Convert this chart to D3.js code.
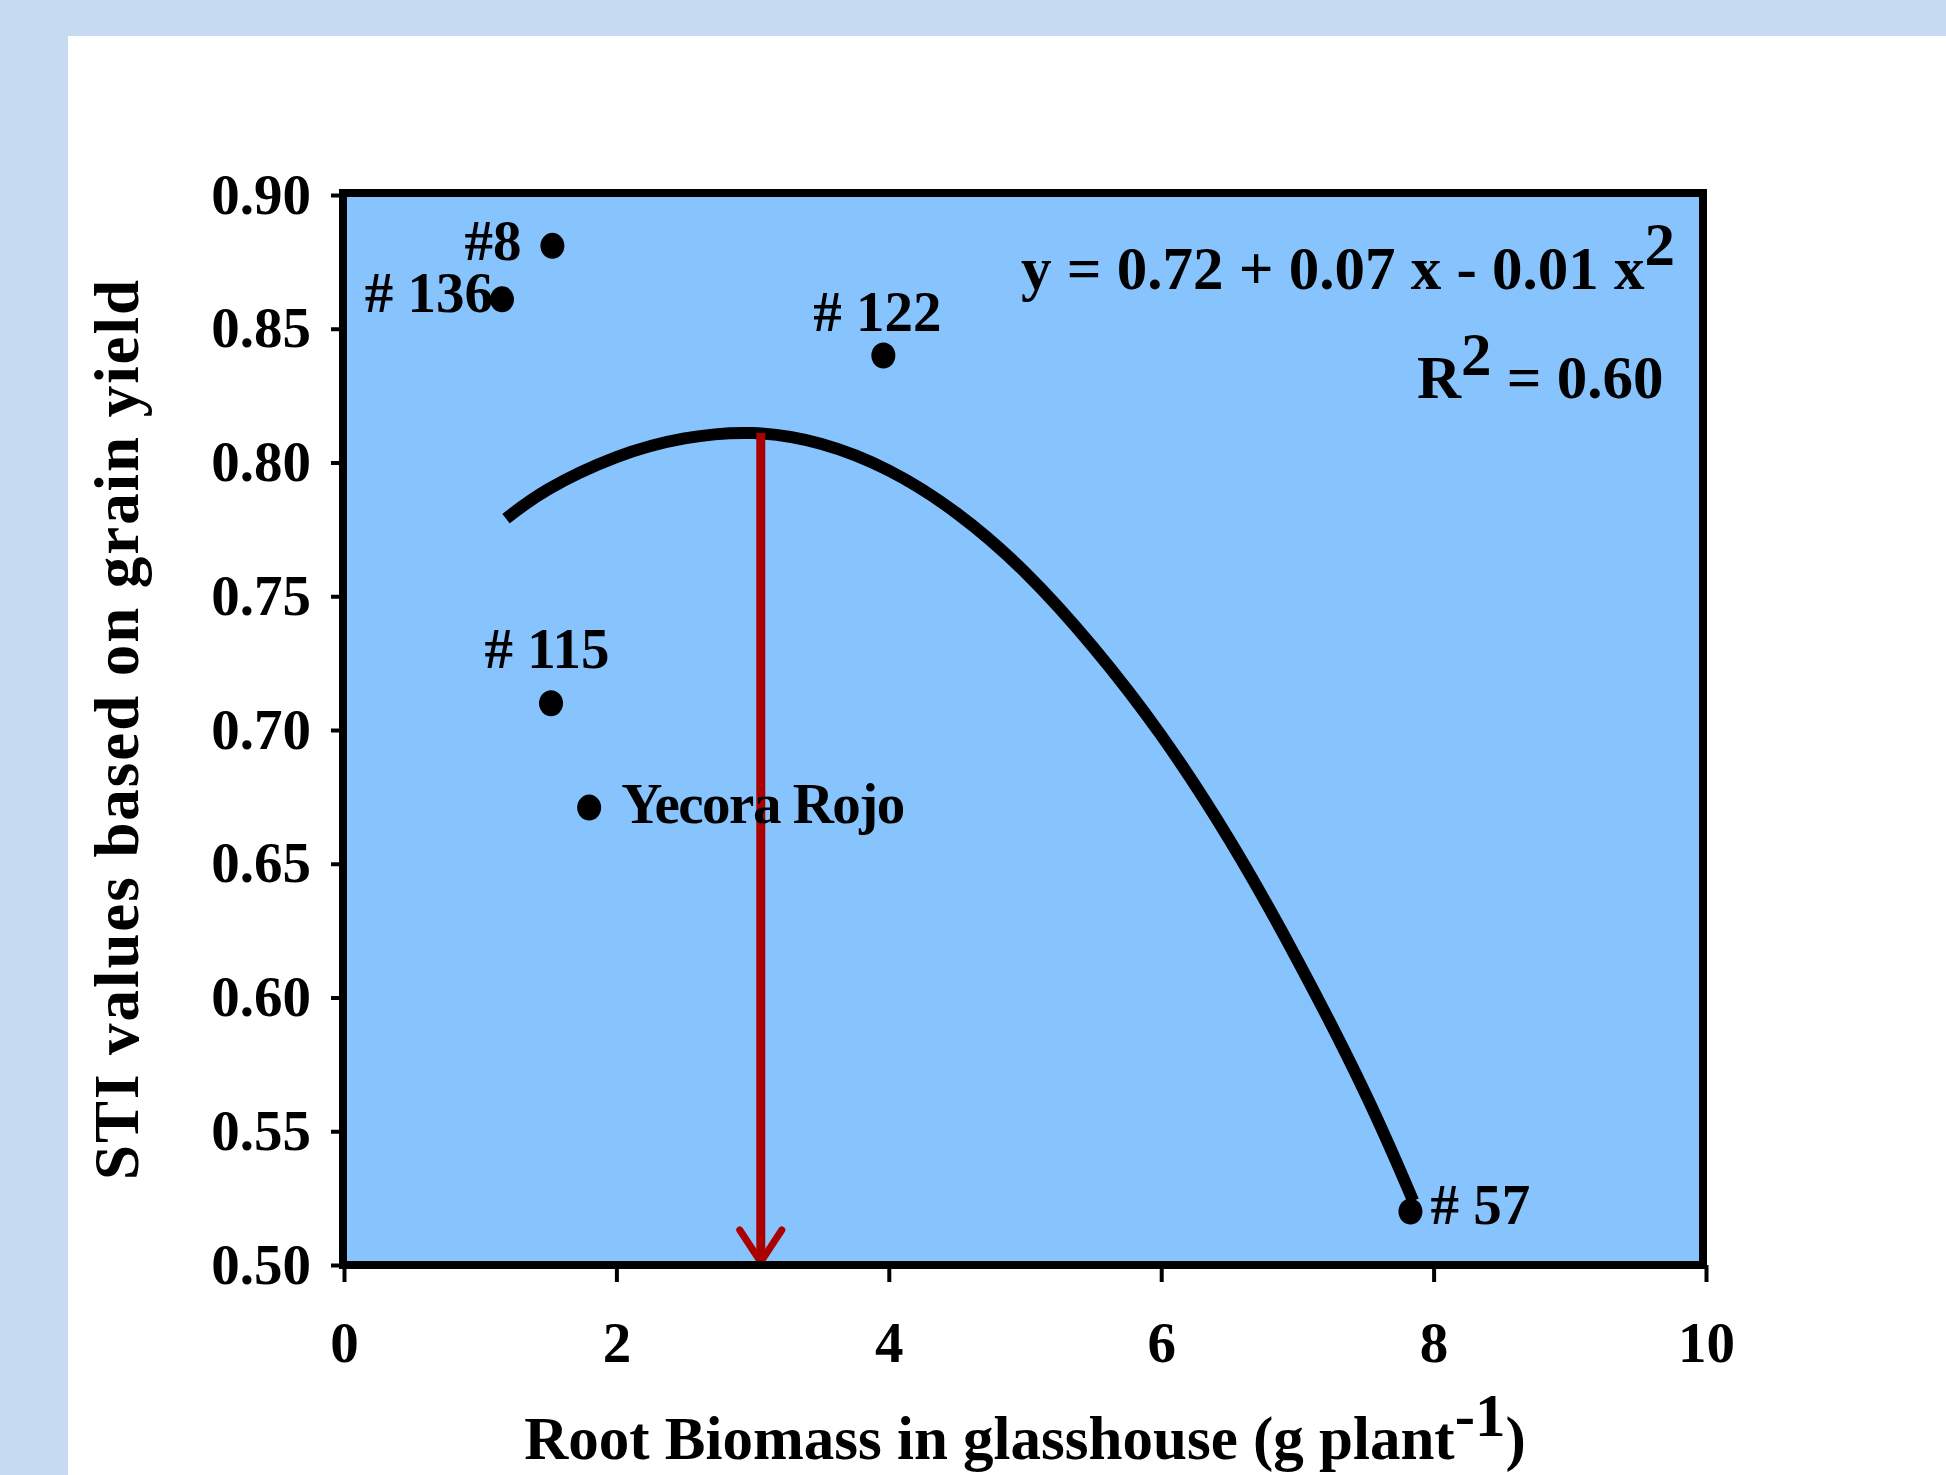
<!DOCTYPE html>
<html>
<head>
<meta charset="utf-8">
<script src="https://cdn.jsdelivr.net/npm/d3@7"></script>
<style>
  html, body { margin: 0; padding: 0; background: #c6daf1; }
  svg { display: block; }
  text { font-family: "Liberation Serif", "Times New Roman", Times, serif; fill: #000; }
</style>
</head>
<body>
<svg id="chart" width="1946" height="1475"></svg>
<script>
// ---------- data ----------
const xTicks = [0, 2, 4, 6, 8, 10];
const yTicks = [0.50, 0.55, 0.60, 0.65, 0.70, 0.75, 0.80, 0.85, 0.90];

const genotypes   = ["#8", "# 136", "# 122", "# 115", "Yecora Rojo", "# 57"];
const rootBiomass = [1.53, 1.16, 3.96, 1.52, 1.80, 7.83];
const stiValues   = [0.881, 0.861, 0.840, 0.710, 0.671, 0.520];

// fitted curve
const fitX = [1.19, 1.50, 2.00, 2.50, 3.00, 3.50, 4.00, 4.50, 5.00, 5.50, 6.00, 6.50, 7.00, 7.50, 7.85];
const fitY = [0.779, 0.790, 0.802, 0.809, 0.811, 0.807, 0.797, 0.781, 0.759, 0.731, 0.698, 0.659, 0.614, 0.564, 0.524];

// red arrow (optimum root biomass)
const arrowX = [3.06];
const arrowY = [0.811, 0.50];

const xTitle = "Root Biomass in glasshouse (g plant";
const yTitle = "STI values based on grain yield";
const eqText = "y = 0.72 + 0.07 x - 0.01 x";
const r2Text = " = 0.60";

// ---------- layout ----------
const svg = d3.select("#chart");
const W = 1946, H = 1475;

// label placement relative to each point (px)
const labelPlace = [
  {dx: -31, dy: 14, anchor: "end"},
  {dx: -9,  dy: 13, anchor: "end"},
  {dx: -6,  dy: -25, anchor: "middle"},
  {dx: -4,  dy: -35, anchor: "middle"},
  {dx: 32,  dy: 15, anchor: "start"},
  {dx: 20,  dy: 12, anchor: "start"}
];

const x = d3.scaleLinear().domain([0, 10]).range([344, 1706]);
const y = d3.scaleLinear().domain([0.5, 0.9]).range([1265, 195]);

// background panels
svg.append("rect").attr("x", 0).attr("y", 0).attr("width", W).attr("height", H).attr("fill", "#c6daf1");
svg.append("rect").attr("x", 68).attr("y", 36).attr("width", W - 68).attr("height", H - 36).attr("fill", "#ffffff");

// plot area
svg.append("rect")
  .attr("x", x(0)).attr("y", y(0.9))
  .attr("width", x(10) - x(0)).attr("height", y(0.5) - y(0.9))
  .attr("fill", "#87c3fd");

// fitted curve
const pts = fitX.map((v, i) => [v, fitY[i]]);
svg.append("path")
  .datum(pts)
  .attr("d", d3.line().x(d => x(d[0])).y(d => y(d[1])).curve(d3.curveNatural))
  .attr("fill", "none")
  .attr("stroke", "#000")
  .attr("stroke-width", 12)
  .attr("stroke-linecap", "butt");

// red arrow
const ax = x(arrowX[0]);
svg.append("line")
  .attr("x1", ax).attr("x2", ax)
  .attr("y1", y(arrowY[0])).attr("y2", y(arrowY[1]) - 6)
  .attr("stroke", "#aa0000").attr("stroke-width", 9);
svg.append("path")
  .attr("d", `M${ax - 21},${y(arrowY[1]) - 35} L${ax},${y(arrowY[1]) - 3} L${ax + 21},${y(arrowY[1]) - 35}`)
  .attr("fill", "none").attr("stroke", "#aa0000").attr("stroke-width", 7)
  .attr("stroke-linejoin", "miter").attr("stroke-linecap", "round");

// points
const pData = genotypes.map((g, i) => ({g, x: rootBiomass[i], y: stiValues[i], p: labelPlace[i]}));
svg.selectAll("ellipse.pt").data(pData).enter().append("ellipse")
  .attr("class", "pt")
  .attr("cx", d => x(d.x)).attr("cy", d => y(d.y))
  .attr("rx", 12).attr("ry", 13)
  .attr("fill", "#000");

svg.selectAll("text.lab").data(pData).enter().append("text")
  .attr("class", "lab")
  .attr("x", d => x(d.x) + d.p.dx).attr("y", d => y(d.y) + d.p.dy)
  .attr("text-anchor", d => d.p.anchor)
  .attr("font-size", 57).attr("font-weight", "bold")
  .attr("letter-spacing", d => d.g === "Yecora Rojo" ? -1.5 : 0)
  .text(d => d.g);

// frame
svg.append("rect")
  .attr("x", x(0) - 1).attr("y", y(0.9) - 2)
  .attr("width", x(10) - x(0) - 2).attr("height", y(0.5) - y(0.9) + 2)
  .attr("fill", "none").attr("stroke", "#000").attr("stroke-width", 8);

// axes
const yAxis = svg.append("g").attr("transform", `translate(${x(0) - 1},0)`)
  .call(d3.axisLeft(y).tickValues(yTicks).tickSize(12).tickSizeOuter(0).tickFormat(d3.format(".2f")));
yAxis.select(".domain").remove();
yAxis.selectAll(".tick line").attr("stroke", "#000").attr("stroke-width", 4);
yAxis.selectAll(".tick text")
  .attr("x", -32).attr("dy", 18)
  .attr("font-size", 57).attr("font-weight", "bold")
  .attr("font-family", "'Liberation Serif', 'Times New Roman', serif")
  .attr("fill", "#000");

const xAxis = svg.append("g").attr("transform", `translate(0,${y(0.5)})`)
  .call(d3.axisBottom(x).tickValues(xTicks).tickSize(17).tickSizeOuter(0).tickFormat(d3.format("d")));
xAxis.select(".domain").remove();
xAxis.selectAll(".tick line").attr("stroke", "#000").attr("stroke-width", 4);
xAxis.selectAll(".tick text")
  .attr("y", 97).attr("dy", 0)
  .attr("font-size", 57).attr("font-weight", "bold")
  .attr("font-family", "'Liberation Serif', 'Times New Roman', serif")
  .attr("fill", "#000");

// equation
const eq = svg.append("text").attr("x", 1021).attr("y", 289)
  .attr("font-size", 61).attr("font-weight", "bold");
eq.append("tspan").text(eqText);
eq.append("tspan").attr("dy", -24).text("2");

const r2 = svg.append("text").attr("x", 1417).attr("y", 398)
  .attr("font-size", 61).attr("font-weight", "bold");
r2.append("tspan").text("R");
r2.append("tspan").attr("dy", -23).text("2");
r2.append("tspan").attr("dy", 23).text(r2Text);

// axis titles
const xt = svg.append("text").attr("x", (x(0) + x(10)) / 2).attr("y", 1459)
  .attr("text-anchor", "middle").attr("font-size", 61).attr("font-weight", "bold");
xt.append("tspan").text(xTitle);
xt.append("tspan").attr("dy", -23).text("-1");
xt.append("tspan").attr("dy", 23).text(")");

svg.append("text")
  .attr("transform", `translate(138,${(y(0.5) + y(0.9)) / 2}) rotate(-90)`)
  .attr("text-anchor", "middle").attr("font-size", 63).attr("font-weight", "bold")
  .attr("textLength", 900).attr("lengthAdjust", "spacing")
  .text(yTitle);
</script>
</body>
</html>
